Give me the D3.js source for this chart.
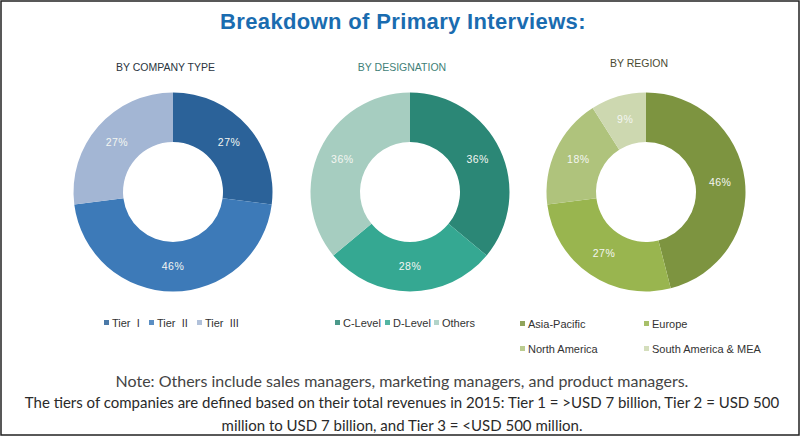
<!DOCTYPE html>
<html>
<head>
<meta charset="utf-8">
<script src="https://cdn.jsdelivr.net/npm/d3@7"></script>
<style>
  html, body { margin: 0; padding: 0; background: #fff; }
  svg { display: block; }
  text { font-family: "Liberation Sans", Arial, sans-serif; }
</style>
</head>
<body>
<svg id="chart" width="800" height="436"></svg>
<script>
const chartTitle = "Breakdown of Primary Interviews:";

const companyLabels = ["Tier  I", "Tier  II", "Tier  III"];
const companyValues = [27, 46, 27];
const companyColors = ["#2b6299", "#3d7ab8", "#a3b6d4"];

const designationLabels = ["C-Level", "D-Level", "Others"];
const designationValues = [36, 28, 36];
const designationColors = ["#2b8776", "#35a892", "#a6cdc0"];

const regionLabels = ["Asia-Pacific", "Europe", "North America", "South America & MEA"];
const regionValues = [46, 27, 18, 9];
const regionColors = ["#7d9440", "#99b54f", "#afc37c", "#cdd8b0"];

const noteLines = [
  "Note: Others include sales managers, marketing managers, and product managers.",
  "The tiers of companies are defined based on their total revenues in 2015: Tier 1 = >USD 7 billion, Tier 2 = USD 500",
  "million to USD 7 billion, and Tier 3 = <USD 500 million."
];

const width = 800, height = 436;
const svg = d3.select("#chart");

svg.append("rect")
  .attr("x", 1).attr("y", 1)
  .attr("width", width - 2).attr("height", height - 2)
  .attr("fill", "#fff")
  .attr("stroke", "#222")
  .attr("stroke-width", 1.5);

svg.append("text")
  .attr("x", 403).attr("y", 28.5)
  .attr("text-anchor", "middle")
  .attr("font-size", 22)
  .attr("font-weight", "bold")
  .attr("letter-spacing", 0.35)
  .attr("fill", "#1a6cb0")
  .text(chartTitle);

const outerR = 99.5, innerR = 50;
const pie = d3.pie().sort(null).value(d => d);
const arc = d3.arc().innerRadius(innerR).outerRadius(outerR);

function drawDonut(cx, cy, values, colors) {
  const g = svg.append("g").attr("transform", `translate(${cx},${cy})`);
  const slices = pie(values);
  g.selectAll("path")
    .data(slices)
    .join("path")
    .attr("d", arc)
    .attr("fill", (d, i) => colors[i]);
  g.selectAll("text")
    .data(slices)
    .join("text")
    .attr("transform", d => `translate(${arc.centroid(d)})`)
    .attr("text-anchor", "middle")
    .attr("dy", "0.3em")
    .attr("font-size", 10.5)
    .attr("letter-spacing", 0.5)
    .attr("fill", "#f4f6f2")
    .text(d => d.value + "%");
}

drawDonut(173, 192, companyValues, companyColors);
drawDonut(410, 192, designationValues, designationColors);
drawDonut(646, 192, regionValues, regionColors);

// sub titles
const subTitles = [
  { text: "BY COMPANY TYPE", x: 165.5, y: 71, fill: "#2a3540" },
  { text: "BY DESIGNATION", x: 402, y: 71, fill: "#3f7f78" },
  { text: "BY REGION", x: 639, y: 67, fill: "#4a4a32" }
];
svg.selectAll("text.sub")
  .data(subTitles)
  .join("text")
  .attr("class", "sub")
  .attr("x", d => d.x).attr("y", d => d.y)
  .attr("text-anchor", "middle")
  .attr("font-size", 10.5)
  .attr("fill", d => d.fill)
  .text(d => d.text);

// legends
function drawLegend(items, colors, positions) {
  items.forEach((label, i) => {
    const p = positions[i];
    svg.append("rect")
      .attr("x", p[0]).attr("y", p[1] - 4)
      .attr("width", 5).attr("height", 5)
      .attr("fill", colors[i])
      .attr("opacity", 0.85);
    svg.append("text")
      .attr("x", p[0] + 8).attr("y", p[1] + 3)
      .attr("font-size", 11)
      .attr("fill", "#333")
      .attr("xml:space", "preserve")
      .text(label);
  });
}

drawLegend(companyLabels, companyColors, [[104, 324], [149, 324], [197, 324]]);
drawLegend(designationLabels, designationColors, [[335, 324], [385, 324], [434, 324]]);
drawLegend(regionLabels, regionColors, [[520, 325], [644, 325], [520, 350], [644, 350]]);

// notes
const noteStyles = [
  { y: 387, size: 16, fill: "#444" },
  { y: 408, size: 15, fill: "#2a2a2a" },
  { y: 431, size: 15, fill: "#2a2a2a" }
];
noteLines.forEach((line, i) => {
  svg.append("text")
    .attr("x", i === 0 ? 402 : 402)
    .attr("y", noteStyles[i].y)
    .attr("text-anchor", "middle")
    .attr("font-size", noteStyles[i].size)
    .attr("fill", noteStyles[i].fill)
    .style("font-family", "Lato, 'Open Sans', sans-serif")
    .text(line);
});
</script>
</body>
</html>
